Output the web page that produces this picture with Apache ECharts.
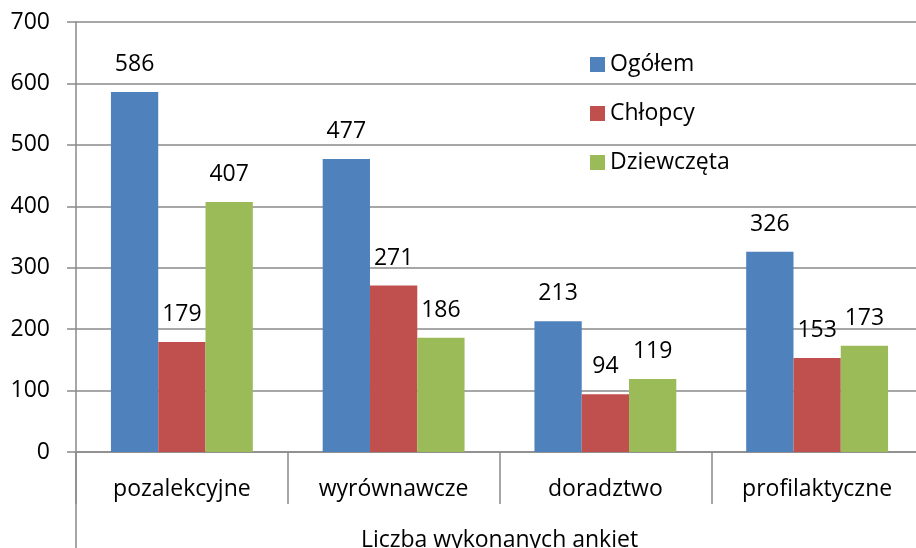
<!DOCTYPE html>
<html>
<head>
<meta charset="utf-8">
<script src="https://cdn.jsdelivr.net/npm/echarts@6/dist/echarts.min.js"></script>
<style>
  html, body { margin: 0; padding: 0; background: #fff; }
  #chart { width: 916px; height: 548px; }
</style>
</head>
<body>
<div id="chart"></div>
<script>
// dane z wykresu
const categories = ['pozalekcyjne', 'wyrównawcze', 'doradztwo', 'profilaktyczne']
const seriesNames = ['Ogółem', 'Chłopcy', 'Dziewczęta']
const ogolem = [586, 477, 213, 326]
const chlopcy = [179, 271, 94, 153]
const dziewczeta = [407, 186, 119, 173]
const axisTitle = 'Liczba wykonanych ankiet'

const colors = ['#4F81BD', '#C0504D', '#9BBB59']
const gridColor = '#8a8a8a'
const font = 'Open Sans'
const fontSize = 23

const chart = echarts.init(document.getElementById('chart'))

const makeSeries = (name, data, color) => ({
  name,
  type: 'bar',
  data,
  barGap: 0,
  barCategoryGap: '33%',
  itemStyle: { color },
  label: {
    show: true,
    position: 'top',
    distance: 16,
    color: '#000',
    fontFamily: font,
    fontSize
  }
})

chart.setOption({
  animation: false,
  grid: { left: 76, right: -7, top: 22, bottom: 96, outerBoundsMode: 'none', containLabel: false },
  legend: {
    orient: 'vertical',
    left: 585,
    top: 48,
    itemWidth: 15,
    itemHeight: 15,
    itemGap: 26,
    icon: 'rect',
    textStyle: { fontFamily: font, fontSize, color: '#000' },
    data: seriesNames
  },
  xAxis: {
    type: 'category',
    data: categories,
    name: axisTitle,
    nameLocation: 'middle',
    nameGap: 77,
    nameTextStyle: { fontFamily: font, fontSize, color: '#000' },
    axisLine: { lineStyle: { color: gridColor, width: 1.5 } },
    axisTick: { show: true, interval: 0, length: 52, lineStyle: { color: gridColor, width: 1.5 } },
    axisLabel: { interval: 0, margin: 26, fontFamily: font, fontSize, color: '#000' }
  },
  yAxis: {
    type: 'value',
    min: 0,
    max: 700,
    interval: 100,
    axisLine: { show: true, lineStyle: { color: gridColor, width: 1.5 } },
    axisTick: { show: true, length: 9, lineStyle: { color: gridColor, width: 1.5 } },
    axisLabel: { margin: 26, fontFamily: font, fontSize, color: '#000' },
    splitLine: { lineStyle: { color: gridColor, width: 1.5 } }
  },
  graphic: [
    {
      // przedłużenie osi Y pod etykietami kategorii
      type: 'line',
      shape: { x1: 76, y1: 452, x2: 76, y2: 548 },
      style: { stroke: gridColor, lineWidth: 1.5 }
    }
  ],
  series: [
    makeSeries(seriesNames[0], ogolem, colors[0]),
    makeSeries(seriesNames[1], chlopcy, colors[1]),
    makeSeries(seriesNames[2], dziewczeta, colors[2])
  ]
})
</script>
</body>
</html>
